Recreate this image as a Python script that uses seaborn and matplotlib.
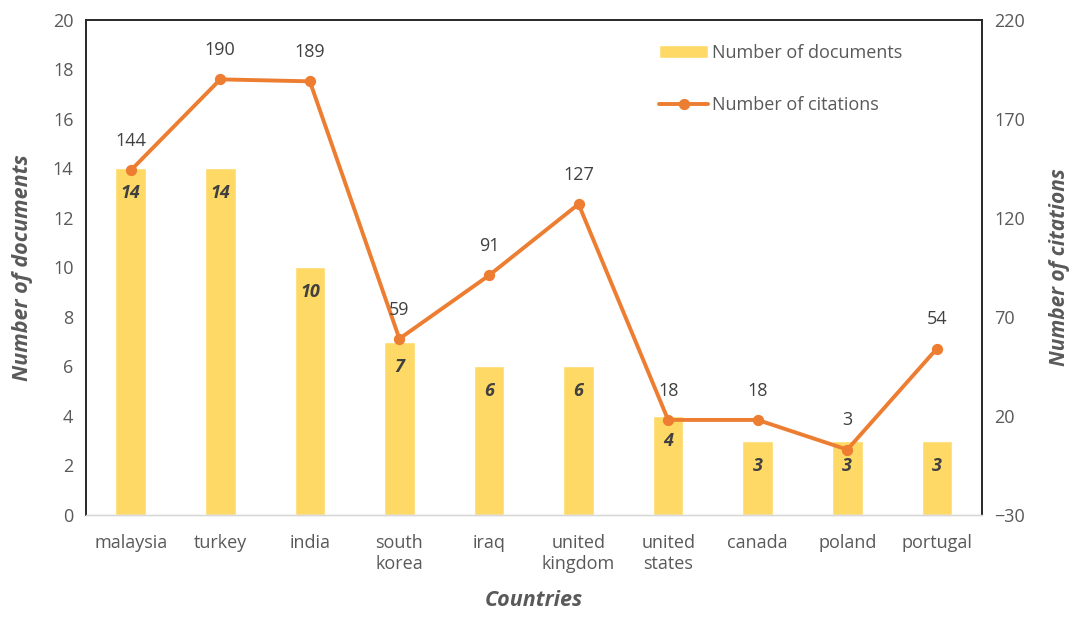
import matplotlib
matplotlib.use("Agg")
import matplotlib.pyplot as plt
import seaborn as sns
import pandas as pd

# ------------------------------------------------------------
# DATA
# ------------------------------------------------------------
countries = ["malaysia", "turkey", "india", "south\nkorea", "iraq",
             "united\nkingdom", "united\nstates", "canada", "poland", "portugal"]
documents = [14, 14, 10, 7, 6, 6, 4, 3, 3, 3]
citations = [144, 190, 189, 59, 91, 127, 18, 18, 3, 54]

df = pd.DataFrame({"country": countries, "documents": documents,
                   "citations": citations})

BAR, LINE, TXT, DARK = "#FFD966", "#ED7D31", "#595959", "#404040"

sns.set_theme(style="white")
plt.rcParams["font.family"] = ["Open Sans", "DejaVu Sans"]

fig = plt.figure(figsize=(10.74, 6.18), dpi=100)
ax = fig.add_axes([0.080, 0.1667, 0.834, 0.801])

sns.barplot(data=df, x="country", y="documents", color=BAR, width=0.34,
            saturation=1, ax=ax, label="Number of documents")
ax.set_ylim(0, 20)
ax.set_yticks(range(0, 21, 2))
ax.set_xlim(-0.5, 9.5)

# bar labels (bold italic, inside near top)
for i, v in enumerate(documents):
    ax.annotate(str(v), (i, v), xytext=(0, -18), textcoords="offset points",
                ha="center", va="center", fontsize=13, fontweight="bold",
                fontstyle="italic", color=DARK)

ax2 = ax.twinx()
sns.pointplot(data=df, x="country", y="citations", color=LINE, markers="o",
              errorbar=None, ax=ax2, linewidth=2.8, markersize=6,
              label="Number of citations")
ax2.set_ylim(-30, 220)
ax2.set_yticks(range(-30, 221, 50))
ax2.set_xlim(-0.5, 9.5)

for i, v in enumerate(citations):
    ax2.annotate(str(v), (i, v), xytext=(0, 21), textcoords="offset points",
                 ha="center", va="center", fontsize=13, color=DARK)

# axes styling
for a in (ax, ax2):
    a.tick_params(axis="both", length=0, labelsize=13, labelcolor=TXT, pad=9)
    a.grid(False)
    for s in ("left", "top", "right"):
        a.spines[s].set_color("#262626")
        a.spines[s].set_linewidth(1.2)
    a.spines["bottom"].set_color("#D9D9D9")
    a.spines["bottom"].set_linewidth(1.0)
ax.tick_params(axis="x", pad=14)

ax.set_xlabel("Countries", fontsize=15.5, fontweight="bold", fontstyle="italic",
              color=TXT, labelpad=12)
ax.set_ylabel("Number of documents", fontsize=15.5, fontweight="bold",
              fontstyle="italic", color=TXT, labelpad=14)
ax2.set_ylabel("Number of citations", fontsize=15, fontweight="bold",
               fontstyle="italic", color=TXT, labelpad=17, rotation=90)

# legend
h1, l1 = ax.get_legend_handles_labels()
h2, l2 = ax2.get_legend_handles_labels()
if ax.get_legend():
    ax.get_legend().remove()
if ax2.get_legend():
    ax2.get_legend().remove()
leg = ax2.legend(h1 + h2, l1 + l2, loc="upper left",
                 bbox_to_anchor=(0.622, 0.985), frameon=False, fontsize=13,
                 labelspacing=1.9, handlelength=2.7, handletextpad=0.2,
                 labelcolor=TXT)

plt.savefig("out.png", dpi=100, facecolor="white")
plt.close()
